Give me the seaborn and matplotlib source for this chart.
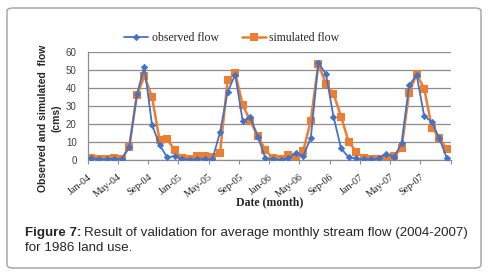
import matplotlib
matplotlib.use("Agg")
import matplotlib.pyplot as plt
from matplotlib.patches import FancyBboxPatch
import seaborn as sns
import pandas as pd
import numpy as np

month_labels = ["Jan-04", "May-04", "Sep-04", "Jan-05", "May-05", "Sep-05",
                "Jan-06", "May-06", "Sep-06", "Jan-07", "May-07", "Sep-07"]

observed = [1.0, 0.3, 0.3, 0.8, 0.5, 7.5, 36.5, 52.0, 19.6, 8.5, 1.5, 2.2,
            0.5, 0.2, 0.4, 0.4, 0.5, 15.5, 38.0, 47.5, 21.7, 23.7, 13.0, 0.9,
            0.3, 0.1, 0.9, 3.7, 2.2, 12.4, 54.0, 48.0, 24.2, 6.5, 1.5, 0.9,
            0.3, 0.3, 0.9, 3.5, 1.8, 9.2, 41.7, 47.2, 24.4, 21.3, 12.0, 0.9]
simulated = [0.9, 0.3, 0.3, 0.9, 0.3, 7.5, 36.0, 46.8, 35.2, 11.1, 11.5, 5.6,
             0.9, 0.3, 2.4, 2.4, 1.5, 4.1, 44.4, 48.5, 30.6, 21.7, 13.3, 5.6,
             0.9, 0.4, 2.8, 1.5, 5.0, 22.0, 53.7, 42.2, 36.9, 24.2, 10.2, 4.6,
             1.1, 0.5, 0.5, 1.1, 2.2, 6.5, 37.6, 47.8, 39.8, 18.1, 12.4, 5.9]

sns.set_theme(style="white")
plt.rcParams['font.family'] = ['Liberation Sans', 'DejaVu Sans']

W, H = 491, 276
fig = plt.figure(figsize=(W / 100, H / 100), dpi=100)

# outer rounded frame
frame = FancyBboxPatch((7 / W, 8 / H), 474 / W, 260 / H,
                       boxstyle="round,pad=0,rounding_size=0.012",
                       transform=fig.transFigure, fill=False,
                       edgecolor="#a0a0a0", linewidth=1.0)
fig.patches.append(frame)

ax = fig.add_axes([87.7 / W, 1 - 160 / H, 363 / W, 107.7 / H])

df = pd.DataFrame({"month": np.arange(len(observed)),
                   "observed flow": observed,
                   "simulated flow": simulated})

blue = "#4472C4"
orange = "#ED7D31"

sns.lineplot(data=df, x="month", y="observed flow", ax=ax, color=blue,
             marker="D", markersize=3.2, markeredgewidth=0.6,
             markeredgecolor=blue, linewidth=1.3, label="observed flow", zorder=3)
sns.lineplot(data=df, x="month", y="simulated flow", ax=ax, color=orange,
             marker="s", markersize=5.8, markeredgewidth=0,
             linewidth=1.8, label="simulated flow", zorder=2)

ax.set_xlim(-0.5, len(observed) - 0.5)
ax.set_ylim(0, 60)
ax.set_yticks(range(0, 61, 10))
ax.yaxis.grid(True, color="#8c8c8c", linewidth=0.9)
ax.xaxis.grid(False)
ax.set_axisbelow(True)

tick_pos = np.arange(-0.5, len(observed), 4)
ax.set_xticks(tick_pos)
ax.set_xticklabels(month_labels + [""] * (len(tick_pos) - len(month_labels)),
                   rotation=38, ha="right", va="top",
                   rotation_mode="anchor", fontsize=7.3,
                   family=["Liberation Serif", "DejaVu Serif"])
ax.tick_params(axis="x", direction="out", length=3, width=0.8, color="#8c8c8c",
               pad=6, bottom=True)
ax.tick_params(axis="y", length=0, labelsize=7, labelcolor="#404040", pad=8)

for s in ["top", "right"]:
    ax.spines[s].set_visible(False)
ax.spines["left"].set_color("#8c8c8c")
ax.spines["left"].set_linewidth(0.9)
ax.spines["bottom"].set_color("#8c8c8c")
ax.spines["bottom"].set_linewidth(0.9)

ax.set_xlabel("")
ax.set_ylabel("")
ax.get_legend().remove()

handles, labels = ax.get_legend_handles_labels()
fig.legend(handles, labels, loc="center", bbox_to_anchor=(232 / W, 1 - 38 / H),
           ncol=2, frameon=False, handlelength=2.0, columnspacing=2.0,
           handletextpad=0.3,
           prop={"family": ["Liberation Serif", "DejaVu Serif"], "size": 8.5})

fig.text(43 / W, 1 - 118 / H, "Observed and simulated  flow", rotation=90,
         ha="center", va="center", fontsize=7.5, fontweight="bold")
fig.text(57 / W, 1 - 118 / H, "(cms)", rotation=90,
         ha="center", va="center", fontsize=7.5, fontweight="bold")

fig.text(270 / W, 1 - 202 / H, "Date (month)", ha="center", va="center",
         fontsize=8.5, fontweight="bold",
         family=["Liberation Serif", "DejaVu Serif"])

cap_size = 9.6
t1 = fig.text(25 / W, 1 - 236 / H, "Figure 7:", ha="left", va="baseline",
              fontsize=cap_size, fontweight="bold")
renderer = fig.canvas.get_renderer()
bb = t1.get_window_extent(renderer=renderer)
fig.text((bb.x1 + 2.5) / W, 1 - 236 / H,
         "Result of validation for average monthly stream flow (2004-2007)",
         ha="left", va="baseline", fontsize=cap_size)
fig.text(25 / W, 1 - 251 / H, "for 1986 land use.",
         ha="left", va="baseline", fontsize=cap_size)

fig.savefig("out.png", dpi=100)
